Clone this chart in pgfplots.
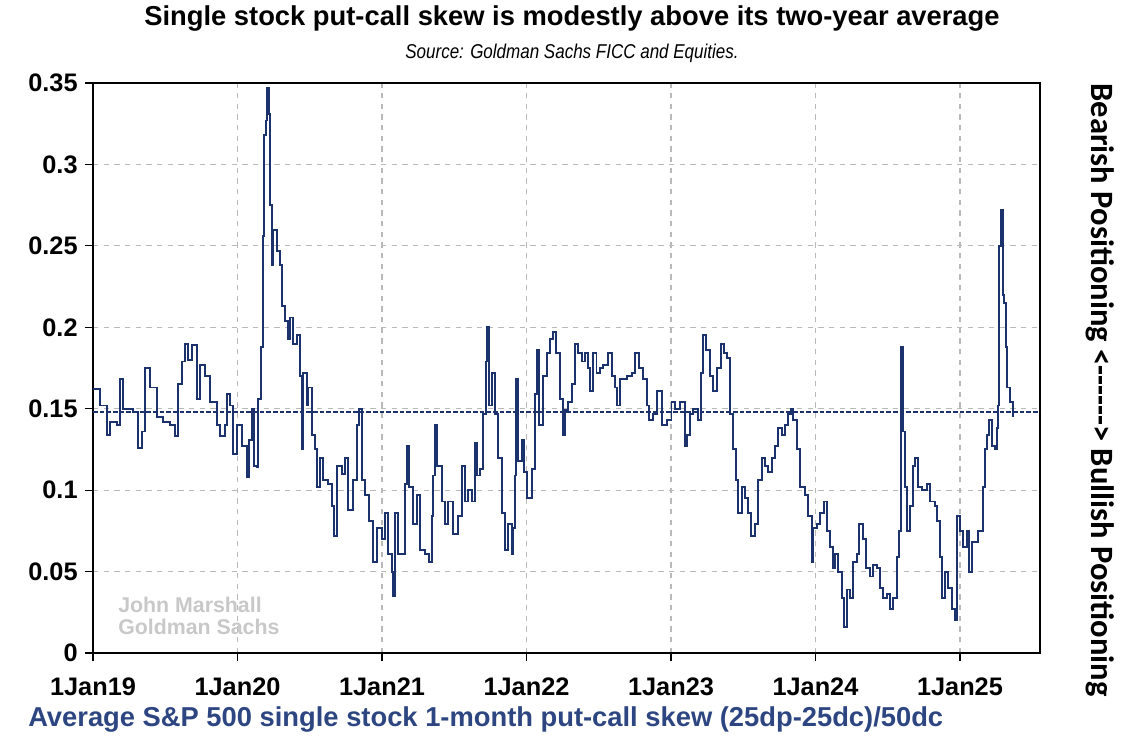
\documentclass[border=0pt]{standalone}
\usepackage{fontspec}
\setmainfont{Liberation Sans}
\newfontfamily\narrowit{Liberation Sans}[FakeStretch=0.85]
\newfontfamily\calib{Carlito}
\usepackage{pgfplots}
\pgfplotsset{compat=1.18}
\definecolor{navy}{RGB}{28,50,108}
\definecolor{lblue}{RGB}{45,70,130}
\definecolor{gridgray}{RGB}{185,185,185}
\definecolor{wm}{RGB}{200,200,200}
\pgfplotstableread{
t v
0.002 0.162
0.048 0.152
0.095 0.134
0.118 0.142
0.164 0.140
0.187 0.168
0.210 0.150
0.279 0.148
0.314 0.126
0.337 0.136
0.360 0.175
0.394 0.163
0.441 0.145
0.487 0.142
0.533 0.140
0.567 0.133
0.584 0.133
0.590 0.165
0.614 0.179
0.637 0.190
0.660 0.180
0.683 0.189
0.717 0.156
0.740 0.177
0.775 0.170
0.810 0.154
0.856 0.140
0.879 0.133
0.913 0.140
0.925 0.159
0.948 0.152
0.971 0.122
0.994 0.140
1.029 0.127
1.063 0.108
1.082 0.131
1.098 0.150
1.114 0.115
1.133 0.114
1.144 0.156
1.160 0.188
1.174 0.256
1.183 0.318
1.197 0.327
1.206 0.347
1.218 0.331
1.225 0.275
1.239 0.238
1.248 0.260
1.271 0.247
1.294 0.238
1.306 0.213
1.329 0.204
1.352 0.193
1.363 0.206
1.386 0.190
1.409 0.195
1.432 0.170
1.444 0.125
1.456 0.172
1.479 0.152
1.490 0.163
1.513 0.134
1.536 0.125
1.548 0.102
1.571 0.120
1.594 0.106
1.629 0.104
1.652 0.090
1.668 0.072
1.686 0.115
1.721 0.110
1.744 0.120
1.767 0.088
1.802 0.106
1.825 0.140
1.843 0.150
1.859 0.106
1.882 0.097
1.912 0.081
1.940 0.056
1.963 0.077
1.998 0.070
2.021 0.086
2.044 0.061
2.067 0.050
2.074 0.035
2.090 0.086
2.113 0.061
2.159 0.104
2.171 0.127
2.189 0.102
2.217 0.079
2.240 0.097
2.263 0.063
2.297 0.061
2.327 0.056
2.344 0.084
2.355 0.109
2.367 0.140
2.383 0.115
2.413 0.093
2.436 0.079
2.459 0.093
2.494 0.073
2.528 0.084
2.551 0.115
2.574 0.093
2.597 0.100
2.620 0.093
2.643 0.129
2.660 0.109
2.678 0.113
2.701 0.147
2.720 0.179
2.729 0.200
2.743 0.152
2.759 0.172
2.782 0.147
2.805 0.120
2.828 0.086
2.851 0.063
2.874 0.079
2.897 0.061
2.909 0.077
2.920 0.109
2.927 0.168
2.943 0.118
2.966 0.131
2.983 0.111
3.006 0.095
3.036 0.113
3.059 0.159
3.070 0.186
3.089 0.140
3.116 0.170
3.139 0.184
3.162 0.193
3.181 0.197
3.204 0.184
3.232 0.156
3.250 0.134
3.266 0.149
3.289 0.154
3.312 0.165
3.335 0.190
3.359 0.184
3.382 0.179
3.405 0.184
3.428 0.175
3.439 0.161
3.462 0.184
3.485 0.172
3.508 0.175
3.532 0.177
3.566 0.184
3.589 0.170
3.612 0.163
3.628 0.152
3.647 0.168
3.693 0.170
3.728 0.172
3.751 0.184
3.781 0.175
3.808 0.168
3.832 0.152
3.850 0.143
3.878 0.147
3.901 0.161
3.935 0.140
3.970 0.143
4.004 0.154
4.028 0.150
4.062 0.154
4.097 0.127
4.108 0.134
4.131 0.147
4.154 0.150
4.189 0.143
4.205 0.172
4.219 0.195
4.242 0.186
4.270 0.170
4.293 0.161
4.316 0.175
4.344 0.190
4.367 0.184
4.390 0.181
4.409 0.147
4.432 0.125
4.450 0.106
4.466 0.086
4.489 0.102
4.512 0.095
4.535 0.086
4.552 0.072
4.582 0.079
4.605 0.106
4.628 0.120
4.651 0.115
4.674 0.111
4.697 0.120
4.720 0.127
4.743 0.138
4.766 0.134
4.789 0.140
4.812 0.147
4.828 0.150
4.847 0.143
4.870 0.125
4.893 0.102
4.928 0.097
4.951 0.084
4.974 0.056
4.985 0.077
5.008 0.079
5.031 0.086
5.059 0.093
5.078 0.075
5.101 0.065
5.119 0.052
5.135 0.061
5.158 0.050
5.181 0.034
5.198 0.016
5.216 0.039
5.239 0.034
5.262 0.056
5.285 0.061
5.304 0.079
5.327 0.070
5.350 0.052
5.377 0.047
5.401 0.054
5.424 0.052
5.447 0.040
5.470 0.034
5.493 0.036
5.516 0.027
5.539 0.034
5.562 0.059
5.580 0.075
5.592 0.188
5.603 0.136
5.620 0.102
5.636 0.075
5.654 0.090
5.677 0.115
5.689 0.120
5.712 0.102
5.735 0.100
5.770 0.104
5.793 0.093
5.827 0.090
5.843 0.081
5.862 0.059
5.873 0.034
5.897 0.050
5.920 0.040
5.943 0.027
5.966 0.020
5.977 0.084
6.000 0.075
6.023 0.065
6.046 0.075
6.065 0.050
6.081 0.068
6.104 0.068
6.127 0.075
6.150 0.075
6.162 0.102
6.173 0.125
6.189 0.134
6.203 0.143
6.219 0.127
6.243 0.125
6.254 0.138
6.266 0.152
6.273 0.250
6.284 0.272
6.296 0.220
6.305 0.215
6.319 0.188
6.328 0.163
6.346 0.154
6.365 0.145
}\skew
\begin{document}
\begin{tikzpicture}
\path[use as bounding box] (-69.75pt,-63.75pt) rectangle (772.5pt,489.75pt);
\begin{axis}[
  at={(0pt,0pt)}, anchor=south west,
  scale only axis, width=710.25pt, height=427.5pt,
  xmin=0, xmax=6.554, ymin=0, ymax=0.35,
  axis line style={black, line width=0.9pt},
  xtick={0,1,2,3,4,5,6},
  xticklabels={1Jan19,1Jan20,1Jan21,1Jan22,1Jan23,1Jan24,1Jan25},
  ytick={0,0.05,0.1,0.15,0.2,0.25,0.3,0.35},
  yticklabels={0,0.05,0.1,0.15,0.2,0.25,0.3,0.35},
  tick align=outside, xtick pos=bottom, ytick pos=left,
  major tick length=6pt,
  tick style={black, line width=0.9pt},
  ticklabel style={font=\bfseries\fontsize{19}{21}\selectfont},
  xticklabel style={yshift=-9pt},
  yticklabel style={xshift=-2pt},
  grid=major,
  major grid style={gridgray, line width=0.8pt, dash pattern=on 4pt off 4pt},
  clip=true,
]
\addplot[navy, line width=1.6pt, dash pattern=on 3.5pt off 1.5pt] coordinates {(0,0.148) (6.554,0.148)};
\addplot[navy, line width=1.4pt, const plot] table[x=t, y=v] {\skew};
\end{axis}
\node[font=\bfseries\fontsize{20.5}{23}\selectfont] at (359.25pt,475.5pt) {Single stock put-call skew is modestly above its two-year average};
\node[font=\narrowit\itshape\fontsize{15}{17}\selectfont] at (359.25pt,450pt) {Source: Goldman Sachs FICC and Equities.};
\node[anchor=west, font=\bfseries\fontsize{20.5}{23}\selectfont, text=lblue, inner sep=0pt] at (-48.75pt,-49.5pt) {Average S\&P 500 single stock 1-month put-call skew (25dp-25dc)/50dc};
\node[rotate=-90, font=\calib\bfseries\fontsize{24.4}{27}\selectfont] at (755.25pt,197.25pt) {Bearish Positioning <------> Bullish Positioning};
\node[anchor=west, align=left, font=\bfseries\fontsize{16}{16.5}\selectfont, text=wm, inner sep=0pt] at (18.75pt,27.75pt) {John Marshall\\Goldman Sachs};
\end{tikzpicture}
\end{document}
